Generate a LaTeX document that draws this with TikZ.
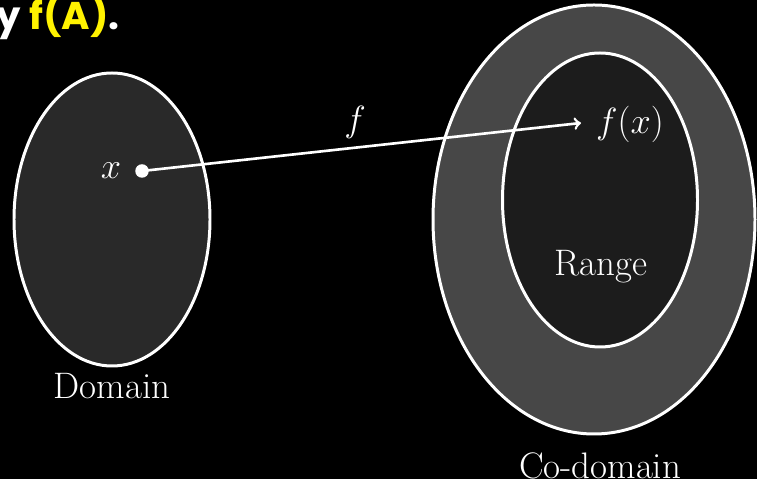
\documentclass[tikz,border=0pt]{standalone}
\usepackage{fontspec}
\newfontfamily\headfont{Poppins}
\usepackage{xcolor}
\colorlet{domfill}{black!84}
\colorlet{codfill}{black!72}
\colorlet{rngfill}{black!89}
\colorlet{headcol}{yellow}
\def\lblsize{\fontsize{21}{25}\selectfont}

\begin{document}
\begin{tikzpicture}[x=0.02cm, y=0.02cm,
    set/.style={draw=white, line width=1.7pt},
    lbl/.style={text=white, font=\lblsize}]
  \fill[black] (0,0) rectangle (757,479);
  \clip (0,0) rectangle (757,479);

  % the three sets
  \draw[set, fill=domfill] (112,259.5) ellipse (98 and 146.5);
  \draw[set, fill=codfill] (594,259.5) ellipse (161 and 214.5);
  \draw[set, fill=rngfill] (600,279) ellipse (97.5 and 147);

  % x and its image
  \node[circle, fill=white, inner sep=0pt, minimum size=0.27cm] (pt) at (142,308) {};
  \node[lbl] (xl) at (111,308) {$x$};
  \coordinate (tip) at (581,356);
  \draw[white, line width=1.5pt, ->] (pt.center) -- (tip);
  \node[lbl] (fl) at (355,357) {$f$};
  \node[lbl] (fxl) at (630,355) {$f(x)$};

  \node[lbl] (rng) at (601,212) {Range};
  \node[lbl] (dom) at (112,93) {Domain};
  \node[lbl] (cod) at (600,13) {Co-domain};

  \node[anchor=base east, inner sep=0pt, text=white,
        font=\headfont\bfseries\fontsize{22}{26}\selectfont]
        (head) at (120,449) {by \textcolor{headcol}{f(A)}.};
\end{tikzpicture}
\end{document}
